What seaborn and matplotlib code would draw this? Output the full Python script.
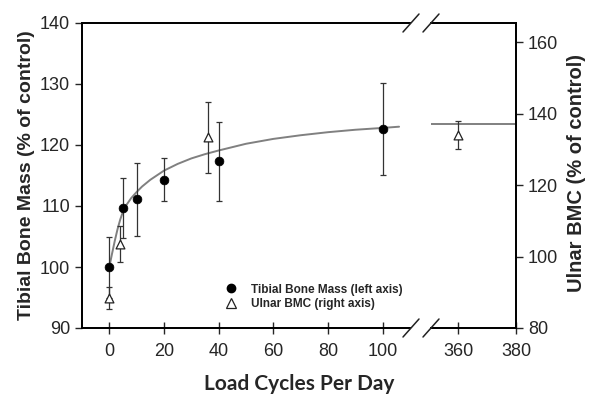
import numpy as np
import pandas as pd
import seaborn as sns
from matplotlib import pyplot as plt
from matplotlib.lines import Line2D

# tibial bone mass (left axis)
tib_x = [0, 5, 10, 20, 40, 100]
tib_y = [100.0, 109.7, 111.1, 114.3, 117.3, 122.6]
tib_err = [5.0, 4.9, 6.0, 3.5, 6.4, 7.6]

# ulnar BMC (right axis)
uln_x = [0, 4, 36, 360]
uln_y = [88.4, 103.5, 133.4, 134.1]
uln_err = [3.0, 5.0, 10.0, 4.0]

# fitted curve (left axis)
curve_x = [0, 1, 2, 3, 4, 5, 6, 8, 10, 12, 15, 20, 25, 30, 35, 40,
           50, 60, 70, 80, 90, 100, 106]
curve_y = [100.0, 102.2, 104.3, 106.2, 107.8, 109.1, 110.0, 111.3, 112.3,
           113.2, 114.3, 115.8, 116.9, 117.8, 118.5, 119.1, 120.2, 121.0,
           121.6, 122.1, 122.5, 122.8, 123.0]
curve_x2 = [350, 380]
curve_y2 = [123.4, 123.4]

left_ticks = [90, 100, 110, 120, 130, 140]
right_ticks = [80, 100, 120, 140, 160]
xticks_a = [0, 20, 40, 60, 80, 100]
xticks_b = [360, 380]

sns.set_style("ticks")
plt.rcParams['font.family'] = ['Liberation Sans', 'DejaVu Sans']

W, H = 590, 396
fig = plt.figure(figsize=(W / 100, H / 100), dpi=100)


def frac(x0, y0, x1, y1):
    return [x0 / W, 1 - y1 / H, (x1 - x0) / W, (y1 - y0) / H]


ax1 = fig.add_axes(frac(82, 23, 410, 328))
ax2 = fig.add_axes(frac(431, 23, 516, 328))
ax1r = ax1.twinx()
ax2r = ax2.twinx()

RL = (80, 165.4)
grey = "#808080"
ecol = "#333333"

curve = pd.DataFrame({"x": curve_x, "y": curve_y})
curve2 = pd.DataFrame({"x": curve_x2, "y": curve_y2})
sns.lineplot(data=curve, x="x", y="y", ax=ax1, color=grey, lw=1.4)
sns.lineplot(data=curve2, x="x", y="y", ax=ax2, color=grey, lw=1.4)

eb = dict(fmt="none", ecolor=ecol, elinewidth=0.9, capsize=2.5, capthick=0.9)
ax1.errorbar(tib_x, tib_y, yerr=tib_err, **eb, zorder=3)
sns.scatterplot(x=tib_x, y=tib_y, ax=ax1, color="black", s=40, marker="o",
                edgecolor="black", zorder=4)

for ax, lo, hi in [(ax1r, 0, 3), (ax2r, 3, 4)]:
    ax.errorbar(uln_x[lo:hi], uln_y[lo:hi], yerr=uln_err[lo:hi], **eb, zorder=3)
    sns.scatterplot(x=uln_x[lo:hi], y=uln_y[lo:hi], ax=ax, color="white",
                    s=40, marker="^", edgecolor="#222222", linewidth=0.9, zorder=4)

ax1.set_xlim(-10, 110)
ax2.set_xlim(350.7, 380)
for a in (ax1, ax2):
    a.set_ylim(90, 140)
for a in (ax1r, ax2r):
    a.set_ylim(*RL)

ax1.set_xticks(xticks_a)
ax2.set_xticks(xticks_b)
ax1.set_yticks(left_ticks)
ax2.set_yticks([])
ax1r.set_yticks([])
ax2r.set_yticks(right_ticks)

for a in (ax1, ax2, ax1r, ax2r):
    for s in a.spines.values():
        s.set_linewidth(1.3)
        s.set_color("black")
    a.set_xlabel("")
    a.set_ylabel("")
ax1.spines["right"].set_visible(False)
ax1r.spines["right"].set_visible(False)
ax2.spines["left"].set_visible(False)
ax2r.spines["left"].set_visible(False)

ax1.tick_params(axis="x", direction="inout", length=8, width=1, labelsize=13, pad=7)
ax2.tick_params(axis="x", direction="inout", length=8, width=1, labelsize=13, pad=7)
ax1.tick_params(axis="y", direction="out", length=5, width=1, labelsize=13)
ax2r.tick_params(axis="y", direction="out", length=5, width=1, labelsize=13)

fig.text(27 / W, 1 - 175 / H, "Tibial Bone Mass (% of control)", rotation=90,
         ha="center", va="center", fontsize=14, fontweight="bold")
fig.text(577 / W, 1 - 173 / H, "Ulnar BMC (% of control)", rotation=90,
         ha="center", va="center", fontsize=14.5, fontweight="bold")
fig.text(299 / W, 1 - 384 / H, "Load Cycles Per Day", ha="center", va="center",
         fontsize=15, fontweight="bold", family=["Lato", "DejaVu Sans"])

# legend
handles = [
    Line2D([], [], ls="none", marker="o", color="black", markersize=6),
    Line2D([], [], ls="none", marker="^", markerfacecolor="white",
           markeredgecolor="#222222", markersize=6.5, markeredgewidth=0.9),
]
fig.legend(handles, ["Tibial Bone Mass (left axis)", "Ulnar BMC (right axis)"],
           loc="center left", bbox_to_anchor=(212 / W, 1 - 297 / H), frameon=False,
           prop={"size": 8.5, "weight": "bold"}, handletextpad=0.9,
           labelspacing=0.25, handlelength=1.5)

# axis break marks
for yp in (23, 328):
    for xc in (411, 431):
        fig.add_artist(Line2D([(xc - 8) / W, (xc + 8) / W],
                              [1 - (yp + 9) / H, 1 - (yp - 9) / H],
                              color="#222222", lw=1.1))

fig.savefig("out.png", dpi=100)
